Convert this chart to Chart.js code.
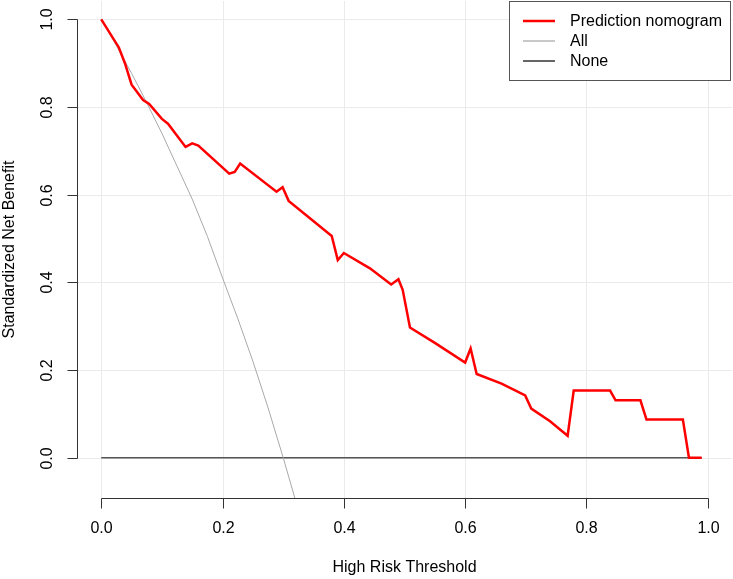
<!DOCTYPE html>
<html>
<head>
<meta charset="utf-8">
<script src="https://cdn.jsdelivr.net/npm/chart.js@4"></script>
<style>
  body { margin: 0; background: #fff; }
  canvas { display: block; }
</style>
</head>
<body>
<canvas id="dca" width="733" height="579"></canvas>
<script>
// decision curve values
let nomoX = [0, 0.029, 0.039, 0.05, 0.069, 0.079, 0.10, 0.11, 0.139, 0.15, 0.16, 0.211, 0.22, 0.229, 0.289, 0.299, 0.309, 0.38, 0.39, 0.40, 0.443, 0.478, 0.49, 0.497, 0.509, 0.55, 0.60, 0.609, 0.619, 0.66, 0.699, 0.709, 0.74, 0.769, 0.779, 0.839, 0.848, 0.889, 0.899, 0.959, 0.969, 0.99];
let nomoY = [1.0, 0.936, 0.90, 0.851, 0.816, 0.807, 0.773, 0.762, 0.709, 0.717, 0.712, 0.648, 0.652, 0.671, 0.607, 0.617, 0.586, 0.506, 0.451, 0.467, 0.432, 0.395, 0.407, 0.383, 0.297, 0.262, 0.217, 0.249, 0.191, 0.169, 0.142, 0.112, 0.083, 0.050, 0.153, 0.153, 0.131, 0.131, 0.087, 0.087, 0, 0];
let allX = [0, 0.025, 0.05, 0.075, 0.1, 0.125, 0.15, 0.175, 0.2, 0.225, 0.25, 0.275, 0.3, 0.325];
let allY = [1.0, 0.94, 0.877, 0.81, 0.74, 0.665, 0.59, 0.505, 0.41, 0.318, 0.22, 0.114, 0.0, -0.12];
let noneX = [0, 0.99];
let noneY = [0, 0];
let xTicks = [0, 0.2, 0.4, 0.6, 0.8, 1.0];
let yTicks = [0, 0.2, 0.4, 0.6, 0.8, 1.0];
let legendLabels = ['Prediction nomogram', 'All', 'None'];
let legendColors = ['#ff0000', '#c8c8c8', '#666666'];

function pts(xs, ys) {
    return xs.map(function (x, i) { return { x: x, y: ys[i] }; });
}

const FONT = '16px "Liberation Sans", Arial, sans-serif';

const rAxes = {
    id: 'rAxes',
    beforeDatasetsDraw(chart) {
        const ctx = chart.ctx, a = chart.chartArea;
        const xs = chart.scales.x, ys = chart.scales.y;
        ctx.save();
        ctx.strokeStyle = '#ebebeb';
        ctx.lineWidth = 1;
        xTicks.forEach(function (t) {
            const px = Math.round(xs.getPixelForValue(t)) + 0.5;
            ctx.beginPath(); ctx.moveTo(px, a.top); ctx.lineTo(px, a.bottom); ctx.stroke();
        });
        yTicks.forEach(function (t) {
            const py = Math.round(ys.getPixelForValue(t)) + 0.5;
            ctx.beginPath(); ctx.moveTo(a.left, py); ctx.lineTo(a.right, py); ctx.stroke();
        });
        ctx.restore();
    },
    afterDraw(chart) {
        const ctx = chart.ctx, a = chart.chartArea;
        const xs = chart.scales.x, ys = chart.scales.y;
        ctx.save();
        ctx.strokeStyle = '#333';
        ctx.lineWidth = 1;
        ctx.fillStyle = '#000';
        ctx.font = FONT;
        // x axis
        const ax = Math.round(a.bottom) + 0.5;
        const x0 = Math.round(xs.getPixelForValue(xTicks[0])) + 0.5;
        const x1 = Math.round(xs.getPixelForValue(xTicks[xTicks.length - 1])) + 0.5;
        ctx.beginPath(); ctx.moveTo(x0, ax); ctx.lineTo(x1, ax); ctx.stroke();
        ctx.textAlign = 'center';
        ctx.textBaseline = 'middle';
        xTicks.forEach(function (t) {
            const px = Math.round(xs.getPixelForValue(t)) + 0.5;
            ctx.beginPath(); ctx.moveTo(px, ax); ctx.lineTo(px, ax + 10); ctx.stroke();
            ctx.fillText(t.toFixed(1), px, ax + 30);
        });
        ctx.fillText('High Risk Threshold', (a.left + a.right) / 2, ax + 69);
        // y axis
        const ay = Math.round(a.left) + 0.5;
        const y0 = Math.round(ys.getPixelForValue(yTicks[0])) + 0.5;
        const y1 = Math.round(ys.getPixelForValue(yTicks[yTicks.length - 1])) + 0.5;
        ctx.beginPath(); ctx.moveTo(ay, y0); ctx.lineTo(ay, y1); ctx.stroke();
        yTicks.forEach(function (t) {
            const py = Math.round(ys.getPixelForValue(t)) + 0.5;
            ctx.beginPath(); ctx.moveTo(ay, py); ctx.lineTo(ay - 10, py); ctx.stroke();
            ctx.save();
            ctx.translate(ay - 30, py);
            ctx.rotate(-Math.PI / 2);
            ctx.fillText(t.toFixed(1), 0, 0);
            ctx.restore();
        });
        ctx.save();
        ctx.translate(10, (a.top + a.bottom) / 2);
        ctx.rotate(-Math.PI / 2);
        ctx.fillText('Standardized Net Benefit', 0, 0);
        ctx.restore();
        // legend box, top right inside the plot
        ctx.fillStyle = '#fff';
        ctx.fillRect(509.5, 1.5, 221, 79);
        ctx.strokeStyle = '#555';
        ctx.strokeRect(509.5, 1.5, 221, 79);
        ctx.textAlign = 'left';
        legendLabels.forEach(function (lab, i) {
            const ly = 21 + i * 20;
            ctx.strokeStyle = legendColors[i];
            ctx.lineWidth = i === 0 ? 2.5 : 2;
            ctx.beginPath(); ctx.moveTo(523, ly); ctx.lineTo(555, ly); ctx.stroke();
            ctx.fillStyle = '#000';
            ctx.fillText(lab, 570, ly + 1);
        });
        ctx.restore();
    }
};

new Chart(document.getElementById('dca').getContext('2d'), {
    type: 'line',
    data: {
        datasets: [
            { label: legendLabels[0], data: pts(nomoX, nomoY), borderColor: '#ff0000', borderWidth: 2.5, pointRadius: 0, tension: 0 },
            { label: legendLabels[1], data: pts(allX, allY), borderColor: '#a9a9a9', borderWidth: 1, pointRadius: 0, tension: 0 },
            { label: legendLabels[2], data: pts(noneX, noneY), borderColor: '#555555', borderWidth: 1.5, pointRadius: 0, tension: 0 }
        ]
    },
    options: {
        responsive: false,
        animation: false,
        layout: { padding: { left: 77, right: 1, top: 1, bottom: 81 } },
        plugins: { legend: { display: false }, tooltip: { enabled: false } },
        scales: {
            x: { type: 'linear', min: -0.04, max: 1.04, display: false },
            y: { type: 'linear', min: -0.092, max: 1.042, display: false }
        }
    },
    plugins: [rAxes]
});
</script>
</body>
</html>
